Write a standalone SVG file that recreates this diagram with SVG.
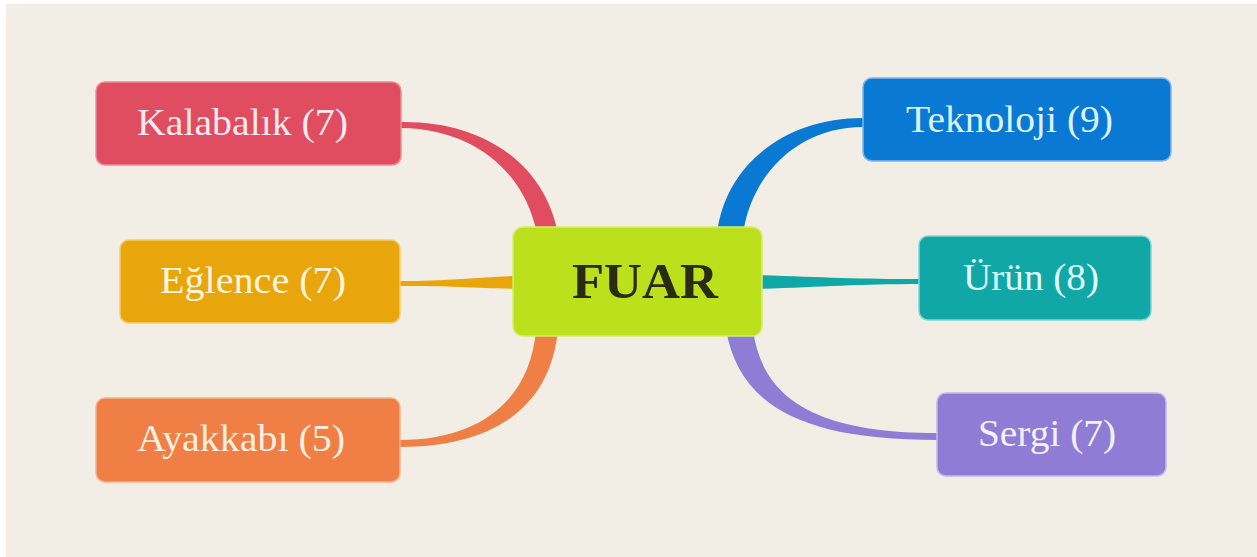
<svg xmlns="http://www.w3.org/2000/svg" width="1257" height="557" viewBox="0 0 1257 557">
  <style>
    .box { stroke-width: 1.5; }
    .lbl { font-family: "Liberation Serif", "Times New Roman", serif; font-size: 37px; text-anchor: start; }
    .root { font-family: "Liberation Serif", "Times New Roman", serif; font-size: 50px; font-weight: bold; fill: #2b2a12; }
  </style>

  <!-- paper background with a thin white margin -->
  <rect x="0" y="0" width="1257" height="557" fill="#ffffff"/>
  <rect x="6" y="4" width="1251" height="553" fill="#f2eee6"/>

  <!-- tapered branches from the central topic -->
  <g id="connectors">
    <path d="M401,122 C485,121 545,165 558,234 L537,234 C526,176 478,129 401,128 Z" fill="#e04d60"/>
    <path d="M400,281 C450,281 480,277 516,276 L516,289 C480,288 450,286 400,286 Z" fill="#e9a50c"/>
    <path d="M400,440 C480,440 530,400 536,330 L558,330 C550,410 490,447 400,447 Z" fill="#f07f45"/>
    <path d="M863,118 C785,118 725,165 717,234 L743,234 C752,172 800,127 863,127 Z" fill="#0a79d3"/>
    <path d="M758,275 C820,277 860,279 920,279 L920,284 C860,284 820,287 758,289 Z" fill="#10a8a7"/>
    <path d="M726,330 C740,405 800,440 938,440 L938,433 C810,433 762,395 753,330 Z" fill="#8e7cd5"/>
  </g>

  <g id="node-fuar">
    <rect class="box" x="513" y="227" width="249" height="109" rx="10" fill="#bde01c" stroke="#d4ee70"/>
    <text class="root" x="572" y="298" textLength="146" lengthAdjust="spacingAndGlyphs">FUAR</text>
  </g>

  <g id="node-kalabalik">
    <rect class="box" x="96" y="82" width="305" height="83" rx="9" fill="#e04d60" stroke="#f08a96"/>
    <text class="lbl" x="137" y="135" fill="#fdeaee" textLength="211" lengthAdjust="spacingAndGlyphs">Kalabalık (7)</text>
  </g>

  <g id="node-eglence">
    <rect class="box" x="120" y="240" width="280" height="83" rx="9" fill="#e9a50c" stroke="#f5cc6a"/>
    <text class="lbl" x="160" y="293" fill="#fdf5dc" textLength="186" lengthAdjust="spacingAndGlyphs">Eğlence (7)</text>
  </g>

  <g id="node-ayakkabi">
    <rect class="box" x="96" y="398" width="304" height="84" rx="9" fill="#f07f45" stroke="#f8b48e"/>
    <text class="lbl" x="137" y="451" fill="#fdefe2" textLength="208" lengthAdjust="spacingAndGlyphs">Ayakkabı (5)</text>
  </g>

  <g id="node-teknoloji">
    <rect class="box" x="863" y="78" width="308" height="83" rx="9" fill="#0a79d3" stroke="#7ab8ec"/>
    <text class="lbl" x="906" y="132" fill="#dbf3ff" textLength="207" lengthAdjust="spacingAndGlyphs">Teknoloji (9)</text>
  </g>

  <g id="node-urun">
    <rect class="box" x="919" y="236" width="232" height="84" rx="9" fill="#10a7a6" stroke="#7fd5d3"/>
    <text class="lbl" x="963" y="290" fill="#dcfbf8" textLength="136" lengthAdjust="spacingAndGlyphs">Ürün (8)</text>
  </g>

  <g id="node-sergi">
    <rect class="box" x="937" y="393" width="229" height="83" rx="9" fill="#8e7cd5" stroke="#c2b8ec"/>
    <text class="lbl" x="978" y="446" fill="#f4f0ff" textLength="138" lengthAdjust="spacingAndGlyphs">Sergi (7)</text>
  </g>
</svg>
